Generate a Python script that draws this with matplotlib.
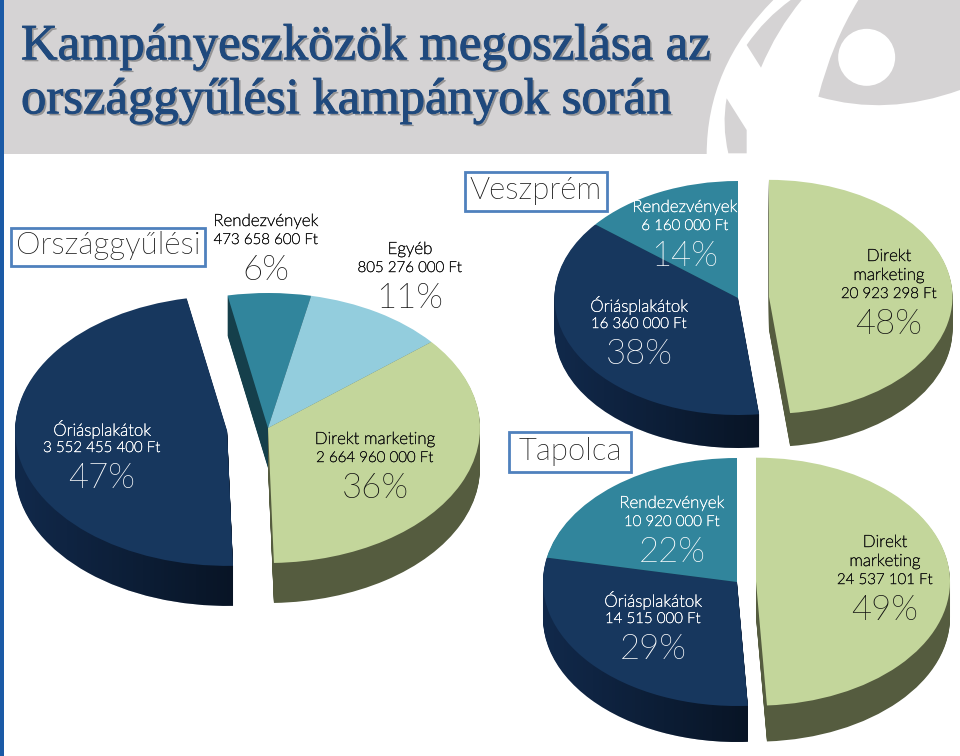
"""Kampányeszközök megoszlása - three faux-3D pies on a slide style header."""
import matplotlib
matplotlib.use("Agg")
import matplotlib.pyplot as plt
import matplotlib.patheffects as pe
import numpy as np
from matplotlib import font_manager as fm
from matplotlib.patches import Circle, PathPatch, Rectangle
from matplotlib.path import Path

W, H = 960, 756

# weight="light" lands on Lato Hairline, so look the Light file up by hand
_light = [f.fname for f in fm.fontManager.ttflist
          if f.name.startswith("Lato") and "Light" in f.fname and "Italic" not in f.fname]
LIGHT_FP = fm.FontProperties(fname=_light[0]) if _light else fm.FontProperties(family="Lato")

TOP = {"blue": "#17375e", "teal": "#31859c", "light": "#93cddd", "green": "#c3d69b"}
WALL = {"blue": "#11294b", "teal": "#153f4b", "light": "#4a6f7a", "green": "#555c3f"}

# Országgyűlési
ogy_names = ["Rendezvények", "Egyéb", "Direkt marketing", "Óriásplakátok"]
ogy_values = [473658600, 805276000, 2664960000, 3552455400]
ogy_amounts = ["473 658 600 Ft", "805 276 000 Ft", "2 664 960 000 Ft", "3 552 455 400 Ft"]
ogy_pcts = ["6%", "11%", "36%", "47%"]
ogy_colors = ["teal", "light", "green", "blue"]
ogy_explode = [0, 0, 0, 0.194]

# Veszprém
vp_names = ["Direkt\nmarketing", "Óriásplakátok", "Rendezvények"]
vp_values = [20923298, 16360000, 6160000]
vp_amounts = ["20 923 298 Ft", "16 360 000 Ft", "6 160 000 Ft"]
vp_pcts = ["48%", "38%", "14%"]
vp_colors = ["green", "blue", "teal"]
vp_explode = [0.169, 0, 0]

# Tapolca
tp_names = ["Direkt\nmarketing", "Óriásplakátok", "Rendezvények"]
tp_values = [24537101, 14515000, 10920000]
tp_amounts = ["24 537 101 Ft", "14 515 000 Ft", "10 920 000 Ft"]
tp_pcts = ["49%", "29%", "22%"]
tp_colors = ["green", "blue", "teal"]
tp_explode = [0.098, 0, 0]

fig = plt.figure(figsize=(W / 100, H / 100), dpi=100, facecolor="white")

# pixel-coordinate layer under the pies (header, logo)
bg = fig.add_axes([0, 0, 1, 1], zorder=0)
bg.set_xlim(0, W); bg.set_ylim(H, 0); bg.axis("off")
GREY = "#d5d3d4"
bg.add_patch(Rectangle((0, 0), W, 154, fc=GREY, ec="none"))


def lz(x, y):
    return (700 + x / 3, y / 3)


def curve_patch(steps, fc):
    verts, codes = [], []
    for code, pts in steps:
        verts += [lz(*p) for p in pts]
        codes += [code] * len(pts)
    verts.append(verts[0]); codes.append(Path.CLOSEPOLY)
    bg.add_patch(PathPatch(Path(verts, codes), fc=fc, ec="none"))


curve_patch([(Path.MOVETO, [(220, 0)]), (Path.CURVE3, [(20, 200), (20, 464)]),
             (Path.LINETO, [(780, 464), (780, 270)]),
             (Path.CURVE3, [(560, 350), (355, 290)]),
             (Path.CURVE3, [(395, 130), (475, 0)])], "white")
curve_patch([(Path.MOVETO, [(272, 0)]), (Path.CURVE3, [(195, 55), (140, 135)]),
             (Path.LINETO, [(183, 203)]), (Path.CURVE3, [(230, 90), (305, 0)])], GREY)
curve_patch([(Path.MOVETO, [(80, 295)]), (Path.LINETO, [(140, 390), (140, 460), (85, 460)]),
             (Path.CURVE3, [(65, 375), (80, 295)])], GREY)
bg.add_patch(Circle(lz(500, 172), 28.5, fc="white", ec="none"))
bg.add_patch(Rectangle((0, 0), 3.5, H, fc="#1b5aa6", ec="none"))

TITLE_COLOR = "#1f497d"
title_fx = [pe.SimplePatchShadow(offset=(1.5, -1.5), shadow_rgbFace="#555555", alpha=0.5),
            pe.Stroke(linewidth=0.7, foreground=TITLE_COLOR), pe.Normal()]
for line, y in [("Kampányeszközök megoszlása az", 47), ("országgyűlési kampányok során", 101)]:
    bg.text(21, y, line, family="Liberation Serif", fontsize=36.5,
            color=TITLE_COLOR, ha="left", va="center", path_effects=title_fx)


def pie3d(cx, cy, rx, ry, depth, values, colors, explode, start, z):
    """Stack of pies in one squashed axes, so a unit circle lands on the ellipse."""
    ax = fig.add_axes([(cx - 2 * rx) / W, (H - cy - 2 * ry) / H, 4 * rx / W, 4 * ry / H], zorder=z)
    step = 1 / ry
    layers = []
    for d in np.arange(depth, 0, -1):
        wedges, _ = ax.pie(values, colors=[WALL[c] for c in colors], explode=explode,
                           startangle=start, counterclock=False, center=(0, -d * step),
                           radius=1, wedgeprops=dict(lw=0.6, edgecolor="none"))
        layers.append(wedges)
    # the navy wall gets darker towards the right
    shade = np.zeros((1, 64, 4))
    shade[0, :, 3] = np.linspace(0, 0.5, 64)
    for i, c in enumerate(colors):
        if c != "blue":
            continue
        outline = Path.make_compound_path(*[lay[i].get_path() for lay in layers])
        x0, x1 = outline.vertices[:, 0].min(), outline.vertices[:, 0].max()
        y0, y1 = outline.vertices[:, 1].min(), outline.vertices[:, 1].max()
        im = ax.imshow(shade, extent=(x0, x1, y0, y1), aspect="auto", zorder=1.5)
        im.set_clip_path(outline, ax.transData)
    ax.pie(values, colors=[TOP[c] for c in colors], explode=explode, startangle=start,
           counterclock=False, center=(0, 0), radius=1, wedgeprops=dict(lw=0, zorder=2))
    ax.set_aspect("auto")
    ax.set_xlim(-2, 2); ax.set_ylim(-2, 2)
    ax.patch.set_alpha(0)
    return ax


pie3d(268, 428, 212, 135, 40, ogy_values, ogy_colors, ogy_explode, 101, 1)
pie3d(738, 298, 183.5, 117, 33, vp_values, vp_colors, vp_explode, 90, 2)
pie3d(737, 582, 194, 124, 36, tp_values, tp_colors, tp_explode, 90, 3)

# text layer above the pies
fg = fig.add_axes([0, 0, 1, 1], zorder=10)
fg.set_xlim(0, W); fg.set_ylim(H, 0); fg.axis("off"); fg.patch.set_alpha(0)


def txt(x, y, s, size, color, stroke=0.0):
    fp = LIGHT_FP.copy()
    fp.set_size(size)
    t = fg.text(x, y, s, fontproperties=fp, color=color, ha="center", va="center")
    if stroke:
        # the Light cut is a touch too thin at label size
        t.set_path_effects([pe.withStroke(linewidth=stroke, foreground=color)])


def box(x0, y0, x1, y1, s):
    fg.add_patch(Rectangle((x0, y0), x1 - x0, y1 - y0, fc="white", ec="#4f81bd", lw=2))
    txt((x0 + x1) / 2, (y0 + y1) / 2 - 1, s, 22.5, "#111111")


box(11, 228, 205, 266, "Országgyűlési")
box(465, 172, 607, 211, "Veszprém")
box(509, 432, 631, 472, "Tapolca")


def label(x, y, name, amount, pct, color):
    # y = centre of the amount line
    lines = name.split("\n")
    for i, ln in enumerate(lines):
        txt(x, y + 1 - 19 * (len(lines) - i), ln, 12.2, color, stroke=0.3)
    txt(x, y + 1, amount, 10.8, color, stroke=0.3)
    txt(x, y + 31, pct, 25, color)


DARK, LIGHT = "#111111", "white"
label(266, 239, ogy_names[0], ogy_amounts[0], ogy_pcts[0], DARK)
label(410, 267, ogy_names[1], ogy_amounts[1], ogy_pcts[1], DARK)
label(375, 457, ogy_names[2], ogy_amounts[2], ogy_pcts[2], DARK)
label(102, 447, ogy_names[3], ogy_amounts[3], ogy_pcts[3], LIGHT)
label(889, 293, vp_names[0], vp_amounts[0], vp_pcts[0], DARK)
label(639, 323, vp_names[1], vp_amounts[1], vp_pcts[1], LIGHT)
label(685, 225, vp_names[2], vp_amounts[2], vp_pcts[2], LIGHT)
label(885, 579, tp_names[0], tp_amounts[0], tp_pcts[0], DARK)
label(653, 618, tp_names[1], tp_amounts[1], tp_pcts[1], LIGHT)
label(672, 521, tp_names[2], tp_amounts[2], tp_pcts[2], LIGHT)

fig.savefig("out.png", dpi=100, facecolor="white")
